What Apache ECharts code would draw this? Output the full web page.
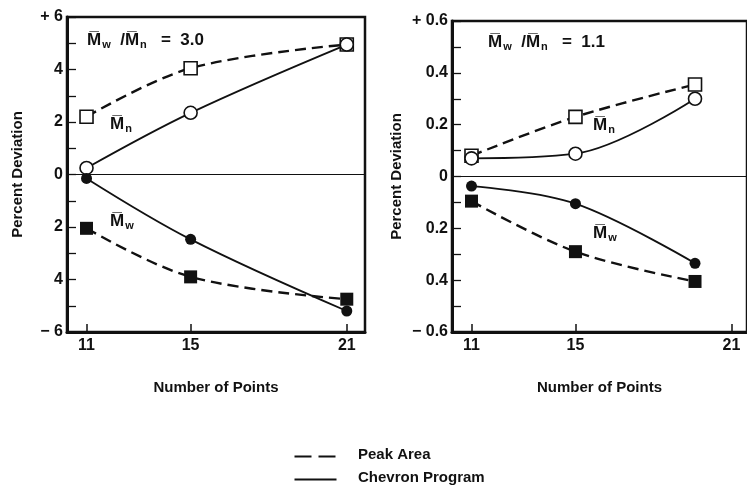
<!DOCTYPE html>
<html>
<head>
<meta charset="utf-8">
<script src="https://cdn.jsdelivr.net/npm/echarts@6/dist/echarts.min.js"></script>
<style>
  html, body { margin: 0; padding: 0; background: #fff; }
  #chart { width: 747px; height: 491px; }
</style>
</head>
<body>
<div id="chart"></div>
<script>
// x positions (number of points) and y values (percent deviation)
const xTicks = [11, 15, 21];

// left panel, Mw/Mn = 3.0
const leftX = [11, 15, 21];
const leftPeakMn = [2.2, 4.05, 4.95];
const leftChevMn = [0.25, 2.35, 4.95];
const leftChevMw = [-0.15, -2.47, -5.2];
const leftPeakMw = [-2.05, -3.9, -4.75];

// right panel, Mw/Mn = 1.1
const rightX = [11, 15, 19.6];
const rightPeakMn = [0.08, 0.23, 0.355];
const rightChevMn = [0.07, 0.088, 0.3];
const rightChevMw = [-0.037, -0.105, -0.335];
const rightPeakMw = [-0.095, -0.29, -0.405];

const FONT = '"Liberation Sans", Arial, sans-serif';
const pairs = (xs, ys) => xs.map((x, i) => [x, ys[i]]);

const chart = echarts.init(document.getElementById('chart'));

const dashed = { color: '#111', width: 2.4, type: [11, 6] };
const solid = { color: '#111', width: 1.8 };
const openSym = { color: '#fff', borderColor: '#111', borderWidth: 1.6 };
const fillSym = { color: '#111' };

const mkSeries = (idx, xs, ys, line, sym, size, item) => ({
	type: 'line',
	xAxisIndex: idx,
	yAxisIndex: idx,
	data: pairs(xs, ys),
	smooth: 0.35,
	symbol: sym,
	symbolSize: size,
	lineStyle: line,
	itemStyle: item,
	silent: true,
	z: 3,
});

const zeroLine = (idx) => ({
	type: 'line',
	xAxisIndex: idx,
	yAxisIndex: idx,
	data: [],
	markLine: {
		silent: true,
		symbol: 'none',
		label: { show: false },
		lineStyle: { color: '#111', width: 1, type: 'solid' },
		data: [{ yAxis: 0 }],
	},
});

const xAxisBase = (idx) => ({
	type: 'value',
	gridIndex: idx,
	min: 10.25,
	max: idx === 0 ? 21.7 : 21.6,
	name: 'Number of Points',
	nameLocation: 'middle',
	nameGap: 48,
	nameTextStyle: { fontFamily: FONT, fontSize: 15, fontWeight: 'bold', color: '#111' },
	splitLine: { show: false },
	axisLine: { onZero: false, lineStyle: { color: '#111', width: 3 } },
	axisTick: { inside: true, length: 8, lineStyle: { color: '#111', width: 1.5 }, customValues: xTicks },
	axisLabel: { fontFamily: FONT, fontSize: 16, fontWeight: 'bold', color: '#111', margin: 6, customValues: xTicks },
});

const yAxisBase = (idx, lim, step, fmt) => ({
	type: 'value',
	gridIndex: idx,
	min: -lim,
	max: lim,
	interval: step,
	name: 'Percent Deviation',
	nameLocation: 'middle',
	nameRotate: 90,
	nameGap: idx === 0 ? 42 : 48,
	nameTextStyle: { fontFamily: FONT, fontSize: 15, fontWeight: 'bold', color: '#111' },
	splitLine: { show: false },
	axisLine: { onZero: false, lineStyle: { color: '#111', width: 3 } },
	axisTick: { inside: true, length: 9, lineStyle: { color: '#111', width: 1.3 } },
	axisLabel: { fontFamily: FONT, fontSize: 16, fontWeight: 'bold', color: '#111', margin: 4, formatter: fmt },
});

const leftFmt = (v) => {
	const r = Math.round(v);
	if (r % 2 !== 0) return '';
	if (r === 6) return '+ 6';
	if (r === -6) return '\u2212 6';
	return String(Math.abs(r));
};
const rightFmt = (v) => {
	const r = Math.round(v * 10);
	if (r % 2 !== 0) return '';
	if (r === 6) return '+ 0.6';
	if (r === -6) return '\u2212 0.6';
	if (r === 0) return '0';
	return (Math.abs(r) / 10).toFixed(1);
};

const rich = {
	m: { fontFamily: FONT, fontSize: 17, fontWeight: 'bold', color: '#111' },
	s: { fontFamily: FONT, fontSize: 11, fontWeight: 'bold', color: '#111', padding: [8, 0, 0, 1] },
	t: { fontFamily: FONT, fontSize: 17, fontWeight: 'bold', color: '#111' },
};
const OM = 'M\u0305';
const txt = (x, y, s) => ({
	type: 'text',
	left: x,
	top: y,
	silent: true,
	style: { text: s, rich: rich, font: 'bold 17px ' + FONT, fill: '#111' },
});

const option = {
	animation: false,
	backgroundColor: '#fff',
	grid: [
		{ left: 67, right: 382, top: 17, bottom: 159, show: true, borderColor: '#111', borderWidth: 2.5, backgroundColor: 'transparent' },
		{ left: 452, right: -6, top: 21, bottom: 159, show: true, borderColor: '#111', borderWidth: 2.5, backgroundColor: 'transparent' },
	],
	xAxis: [xAxisBase(0), xAxisBase(1)],
	yAxis: [yAxisBase(0, 6, 1, leftFmt), yAxisBase(1, 0.6, 0.1, rightFmt)],
	series: [
		zeroLine(0),
		zeroLine(1),
		mkSeries(0, leftX, leftPeakMn, dashed, 'rect', 13, openSym),
		mkSeries(0, leftX, leftChevMn, solid, 'circle', 13, openSym),
		mkSeries(0, leftX, leftChevMw, solid, 'circle', 11, fillSym),
		mkSeries(0, leftX, leftPeakMw, dashed, 'rect', 13, fillSym),
		mkSeries(1, rightX, rightPeakMn, dashed, 'rect', 13, openSym),
		mkSeries(1, rightX, rightChevMn, solid, 'circle', 13, openSym),
		mkSeries(1, rightX, rightChevMw, solid, 'circle', 11, fillSym),
		mkSeries(1, rightX, rightPeakMw, dashed, 'rect', 13, fillSym),
	],
	graphic: [
		txt(87, 32, '{m|' + OM + '}{s|w}{t|  /}{m|' + OM + '}{s|n}{t|   =  3.0}'),
		txt(488, 34, '{m|' + OM + '}{s|w}{t|  /}{m|' + OM + '}{s|n}{t|   =  1.1}'),
		txt(110, 116, '{m|' + OM + '}{s|n}'),
		txt(110, 213, '{m|' + OM + '}{s|w}'),
		txt(593, 117, '{m|' + OM + '}{s|n}'),
		txt(593, 225, '{m|' + OM + '}{s|w}'),
		{ type: 'line', left: 292, top: 454, silent: true, shape: { x1: 0, y1: 0, x2: 42, y2: 0 }, style: { stroke: '#111', lineWidth: 2.2, lineDash: [17, 7] } },
		{ type: 'line', left: 292, top: 477, silent: true, shape: { x1: 0, y1: 0, x2: 42, y2: 0 }, style: { stroke: '#111', lineWidth: 2 } },
		{ type: 'text', left: 358, top: 447, silent: true, style: { text: 'Peak Area', font: 'bold 15px ' + FONT, fill: '#111' } },
		{ type: 'text', left: 358, top: 470, silent: true, style: { text: 'Chevron Program', font: 'bold 15px ' + FONT, fill: '#111' } },
	],
};

chart.setOption(option);
</script>
</body>
</html>
